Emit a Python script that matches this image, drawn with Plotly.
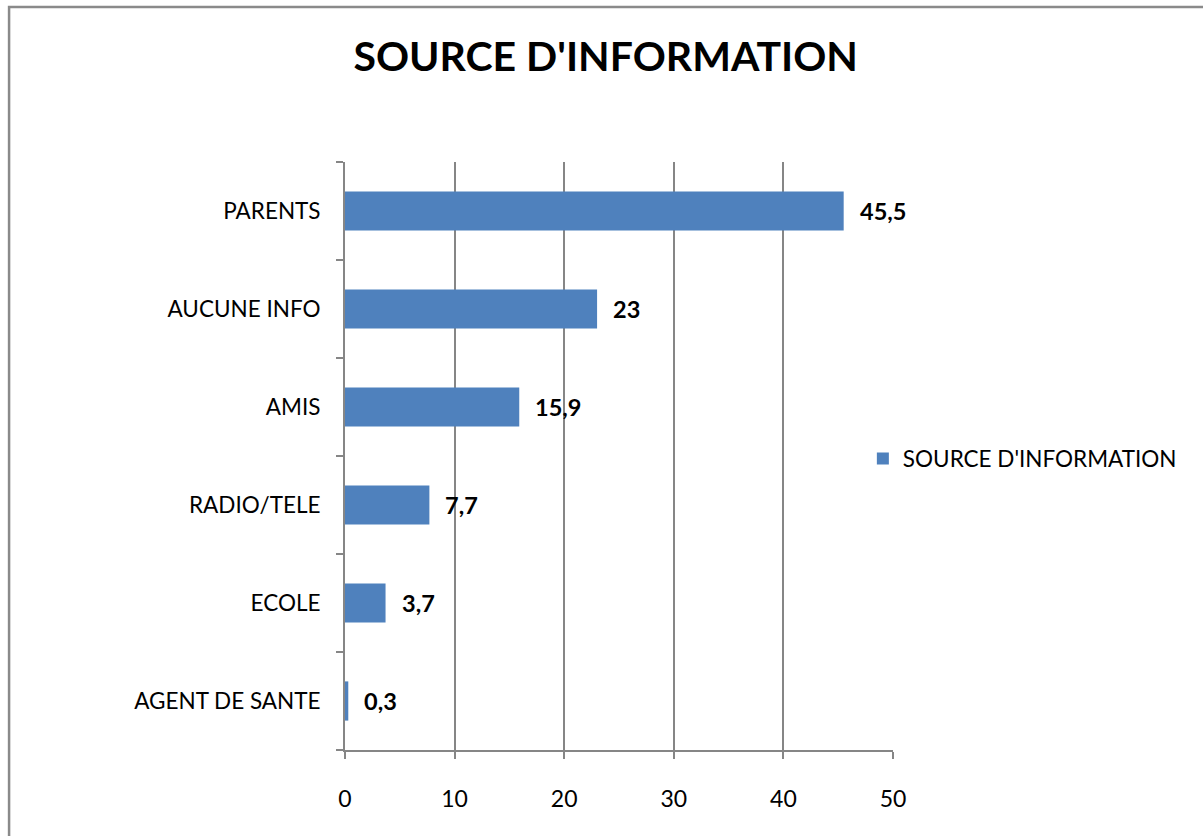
import plotly.graph_objects as go

# Survey results: where respondents got their information (percent)
categories = ["AGENT DE SANTE", "ECOLE", "RADIO/TELE", "AMIS", "AUCUNE INFO", "PARENTS"]
values = [0.3, 3.7, 7.7, 15.9, 23, 45.5]
value_labels = ["0,3", "3,7", "7,7", "15,9", "23", "45,5"]
series_name = "SOURCE D'INFORMATION"
x_ticks = [0, 10, 20, 30, 40, 50]

BAR_COLOR = "#4F81BD"
GRID_COLOR = "#868686"
FONT = "Lato"

fig = go.Figure()
fig.add_trace(go.Bar(
    y=categories,
    x=values,
    orientation="h",
    name=series_name,
    marker=dict(color=BAR_COLOR, line=dict(width=0)),
    width=0.4,
    showlegend=True,
))

# bold value labels to the right of each bar
for cat, v, lab in zip(categories, values, value_labels):
    fig.add_annotation(
        x=v, y=cat, text="<b>" + lab + "</b>",
        showarrow=False, xanchor="left", yanchor="middle",
        xshift=14, font=dict(family=FONT, size=23.5, color="black"),
    )

# outer chart frame
fig.add_shape(
    type="rect", xref="paper", yref="paper",
    x0=-0.613, x1=1.6, y0=-0.2, y1=1.2635,
    line=dict(color="#8a8a8a", width=2.5), layer="below",
)

fig.update_layout(
    width=1203, height=836,
    margin=dict(l=345, r=310, t=162, b=86),
    paper_bgcolor="white", plot_bgcolor="white",
    font=dict(family=FONT, size=22, color="black"),
    title=dict(
        text="<b>SOURCE D'INFORMATION</b>",
        x=0.5035, xref="container", xanchor="center",
        y=0.932, yref="container", yanchor="middle",
        font=dict(family=FONT, size=41, color="black"),
    ),
    bargap=0.6,
    legend=dict(
        x=0.945, xanchor="left", y=0.495, yanchor="middle",
        font=dict(family=FONT, size=22.5, color="black"),
        bgcolor="rgba(0,0,0,0)", itemwidth=30,
    ),
)

fig.update_xaxes(
    range=[0, 50], tickvals=x_ticks, ticktext=[str(t) for t in x_ticks],
    showgrid=True, gridcolor=GRID_COLOR, gridwidth=1.5,
    showline=True, linecolor=GRID_COLOR, linewidth=2,
    ticks="outside", ticklen=7, tickcolor=GRID_COLOR, tickwidth=2,
    ticklabelstandoff=20, zeroline=False,
    tickfont=dict(family=FONT, size=23),
)
fig.update_yaxes(
    categoryorder="array", categoryarray=categories,
    showgrid=False, showline=True, linecolor=GRID_COLOR, linewidth=2,
    ticks="outside", ticklen=7, tickcolor=GRID_COLOR, tickwidth=2,
    tickson="boundaries", ticklabelstandoff=18,
    tickfont=dict(family=FONT, size=22.5),
)

fig.write_html("out.html")
